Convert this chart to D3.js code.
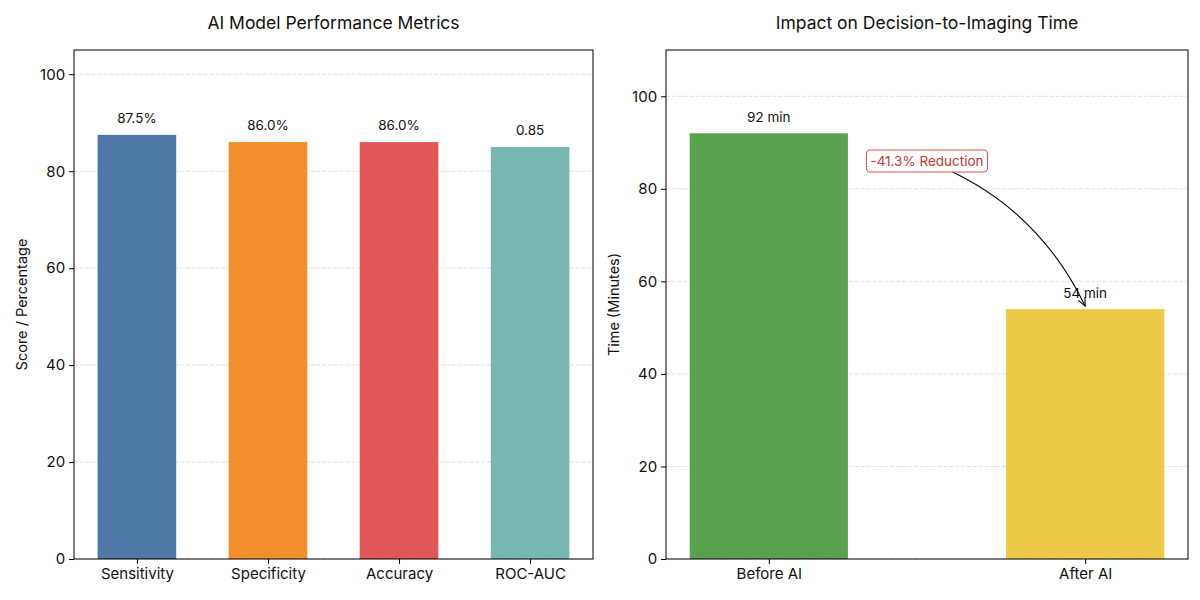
<!DOCTYPE html>
<html>
<head>
<meta charset="utf-8">
<script src="https://cdn.jsdelivr.net/npm/d3@7"></script>
<style>
html,body{margin:0;padding:0;background:#fff;}
svg{display:block;font-family:Inter,"Open Sans",sans-serif;}
</style>
</head>
<body>
<svg id="chart" width="1200" height="600"></svg>
<script>
// ---- data ----
const metricCategories = ["Sensitivity", "Specificity", "Accuracy", "ROC-AUC"];
const metricValues = [87.5, 86.0, 86.0, 85.0];
const metricLabels = ["87.5%", "86.0%", "86.0%", "0.85"];
const metricColors = ["#4e79a7", "#f28e2b", "#e15759", "#76b7b2"];
const metricTicks = [0, 20, 40, 60, 80, 100];

const timeCategories = ["Before AI", "After AI"];
const timeValues = [92, 54];
const timeLabels = ["92 min", "54 min"];
const timeColors = ["#59a14f", "#edc948"];
const timeTicks = [0, 20, 40, 60, 80, 100];
const annotationText = "-41.3% Reduction";

const svg = d3.select("#chart");

function panel(opts) {
  const g = svg.append("g");
  const {x0, x1, y0, y1} = opts.box;
  const n = opts.cats.length;
  const x = d3.scaleLinear().domain(opts.xdom).range([x0, x1]);
  const y = d3.scaleLinear().domain(opts.ydom).range([y1, y0]);

  // grid
  g.selectAll("line.grid").data(opts.ticks).enter().append("line")
    .attr("x1", x0).attr("x2", x1)
    .attr("y1", d => y(d)).attr("y2", d => y(d))
    .attr("stroke", "#b0b0b0").attr("stroke-opacity", 0.5)
    .attr("stroke-width", 0.8).attr("stroke-dasharray", "4.1,1.8");

  // bars
  g.selectAll("rect.bar").data(opts.vals).enter().append("rect")
    .attr("x", (d, i) => x(i - opts.bw / 2))
    .attr("width", (d, i) => x(i + opts.bw / 2) - x(i - opts.bw / 2))
    .attr("y", d => y(d)).attr("height", d => y(0) - y(d))
    .attr("fill", (d, i) => opts.colors[i]);

  // value labels
  g.selectAll("text.val").data(opts.vals).enter().append("text")
    .attr("x", (d, i) => x(i)).attr("y", d => y(d + 2) - 2)
    .attr("text-anchor", "middle").attr("font-size", 13.5).attr("fill", "#111")
    .text((d, i) => opts.labels[i]);

  // spines
  g.append("rect").attr("x", x0).attr("y", y0)
    .attr("width", x1 - x0).attr("height", y1 - y0)
    .attr("fill", "none").attr("stroke", "#000").attr("stroke-width", 1);

  // y axis
  const ya = d3.axisLeft(y).tickValues(opts.ticks).tickSize(4.9).tickPadding(4);
  const yg = g.append("g").attr("transform", `translate(${x0},0)`).call(ya);
  yg.select(".domain").remove();
  yg.selectAll("text").attr("font-size", 15).attr("fill", "#111").style("font-family", "Inter, sans-serif");

  // x axis
  const xa = d3.axisBottom(x).tickValues(d3.range(n)).tickFormat(i => opts.cats[i]).tickSize(4.9).tickPadding(4);
  const xg = g.append("g").attr("transform", `translate(0,${y1})`).call(xa);
  xg.select(".domain").remove();
  xg.selectAll("text").attr("font-size", 15).attr("fill", "#111").style("font-family", "Inter, sans-serif");

  // title
  g.append("text").attr("x", (x0 + x1) / 2).attr("y", 29)
    .attr("text-anchor", "middle").attr("font-size", 17.5).attr("fill", "#111")
    .text(opts.title);

  // y label
  g.append("text")
    .attr("transform", `translate(${opts.ylabX},${(y0 + y1) / 2}) rotate(-90)`)
    .attr("text-anchor", "middle").attr("font-size", 14.5).attr("fill", "#111")
    .text(opts.ylabel);

  return {g, x, y};
}

panel({
  box: {x0: 74, x1: 593, y0: 50, y1: 559},
  xdom: [-0.48, 3.48], ydom: [0, 105], bw: 0.6,
  cats: metricCategories, vals: metricValues, labels: metricLabels,
  colors: metricColors, ticks: metricTicks,
  title: "AI Model Performance Metrics", ylabel: "Score / Percentage", ylabX: 27
});

const right = panel({
  box: {x0: 666, x1: 1188, y0: 50, y1: 559},
  xdom: [-0.325, 1.325], ydom: [0, 110], bw: 0.5,
  cats: timeCategories, vals: timeValues, labels: timeLabels,
  colors: timeColors, ticks: timeTicks,
  title: "Impact on Decision-to-Imaging Time", ylabel: "Time (Minutes)", ylabX: 619
});

// annotation with curved arrow
{
  const {g, x, y} = right;
  const tx = x(0.5), ty = y(86);
  const ax = x(1), ay = y(timeValues[1]) - 3;
  const dx = ax - tx, dy = ay - ty;
  const rad = 0.2;
  const cx = (tx + ax) / 2 + rad * dy, cy = (ty + ay) / 2 - rad * dx;
  const ag = g.append("g");
  ag.append("path")
    .attr("d", `M${tx},${ty} Q${cx},${cy} ${ax},${ay}`)
    .attr("fill", "none").attr("stroke", "#000").attr("stroke-width", 1.1);
  // arrow head
  const ang = Math.atan2(ay - cy, ax - cx);
  const hl = 9, hw = 0.42;
  const p1 = [ax - hl * Math.cos(ang - hw), ay - hl * Math.sin(ang - hw)];
  const p2 = [ax - hl * Math.cos(ang + hw), ay - hl * Math.sin(ang + hw)];
  ag.append("path")
    .attr("d", `M${p1[0]},${p1[1]} L${ax},${ay} L${p2[0]},${p2[1]}`)
    .attr("fill", "none").attr("stroke", "#000").attr("stroke-width", 1.1);

  const t = ag.append("text").attr("x", tx).attr("y", ty + 5)
    .attr("text-anchor", "middle").attr("font-size", 13.5).attr("fill", "#c0392b")
    .text(annotationText);
  const bb = t.node().getBBox();
  ag.insert("rect", "text")
    .attr("x", bb.x - 4).attr("y", ty - 11).attr("width", bb.width + 8).attr("height", 22)
    .attr("rx", 4).attr("fill", "#fff").attr("stroke", "#d9534f").attr("stroke-width", 1.1);
}
</script>
</body>
</html>
